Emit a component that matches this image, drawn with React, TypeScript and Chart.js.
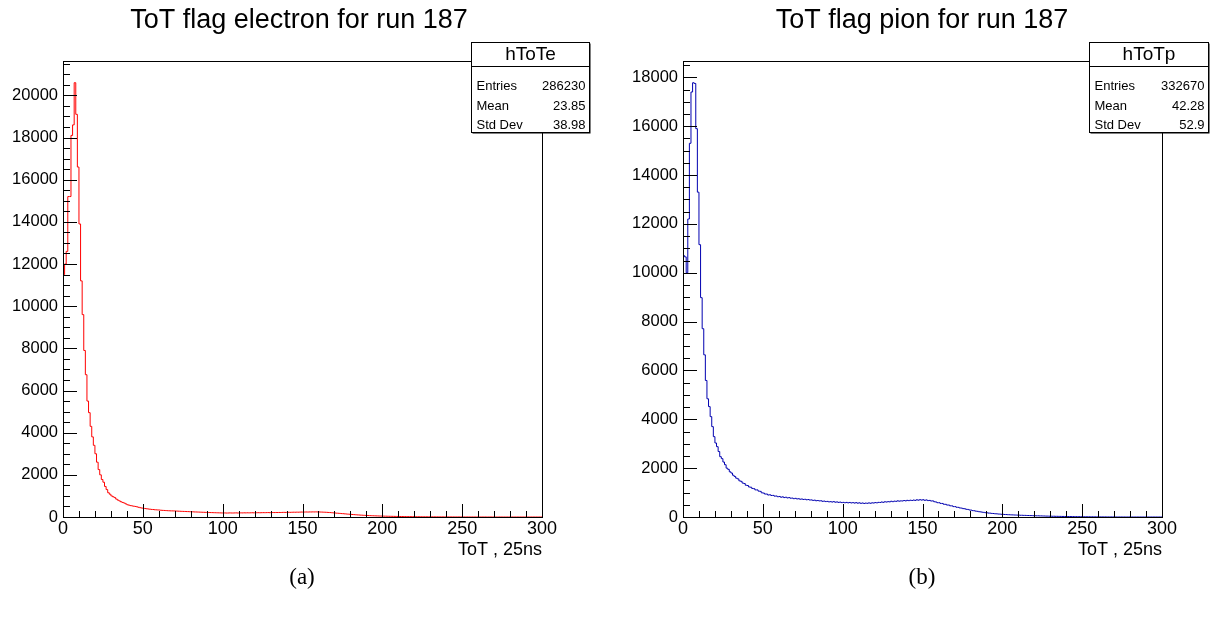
import React, { useEffect, useRef } from "react";
import { Chart, registerables } from "chart.js";

Chart.register(...registerables);

// ---------- data ----------
const X_TICKS = [0, 50, 100, 150, 200, 250, 300];
const Y_TICKS_E = [0, 2000, 4000, 6000, 8000, 10000, 12000, 14000, 16000, 18000, 20000];
const Y_TICKS_P = [0, 2000, 4000, 6000, 8000, 10000, 12000, 14000, 16000, 18000];

// electron ToT histogram, 300 bins of width 1 (0..300)
const electronCounts = [
  11500, 12000, 12600, 15200, 15200, 18100, 18600, 20600, 19100, 16600,
  13900, 11200, 9600, 7900, 6750, 5500, 4950, 4300, 3800, 3400,
  3000, 2600, 2250, 2000, 1780, 1650, 1450, 1300, 1150, 1080,
  1000, 960, 920, 850, 800, 760, 720, 690, 660, 620,
  580, 560, 540, 525, 510, 500, 480, 460, 440, 425,
  410, 400, 390, 380, 370, 360, 355, 345, 340, 335,
  330, 320, 315, 310, 305, 300, 295, 292, 290, 288,
  285, 280, 276, 272, 268, 265, 262, 258, 255, 252,
  250, 245, 240, 238, 235, 232, 228, 225, 222, 218,
  215, 212, 210, 208, 205, 203, 200, 198, 195, 192,
  190, 192, 188, 190, 194, 191, 189, 193, 195, 190,
  192, 196, 194, 198, 195, 200, 197, 199, 202, 198,
  200, 203, 205, 201, 204, 207, 205, 208, 210, 206,
  209, 212, 210, 214, 212, 216, 214, 218, 220, 217,
  220, 223, 221, 225, 228, 226, 230, 228, 232, 235,
  232, 236, 238, 235, 240, 238, 242, 240, 243, 240,
  238, 235, 232, 228, 225, 220, 215, 210, 203, 196,
  190, 183, 176, 170, 163, 157, 150, 143, 137, 130,
  124, 118, 112, 106, 100, 95, 90, 85, 80, 76,
  72, 68, 64, 61, 58, 55, 52, 49, 46, 44,
  42, 40, 38, 36, 34, 32, 31, 29, 28, 26,
  25, 24, 22, 21, 20, 19, 18, 17, 16, 15,
  14, 13, 13, 12, 11, 11, 10, 9, 9, 8,
  8, 7, 7, 6, 6, 6, 5, 5, 5, 4,
  4, 4, 3, 3, 3, 3, 2, 3, 2, 2,
  2, 2, 1, 2, 1, 1, 1, 1, 1, 1,
  1, 0, 1, 0, 1, 0, 0, 1, 0, 0,
  0, 0, 0, 1, 0, 0, 0, 0, 0, 0,
  0, 0, 0, 0, 0, 0, 0, 0, 0, 0,
  0, 0, 0, 0, 0, 0, 0, 0, 0, 0,
];

// pion ToT histogram, 300 bins of width 1 (0..300)
const pionCounts = [
  10700, 10650, 10000, 12200, 15300, 17400, 17780, 17750, 15900, 13300,
  11150, 8980, 7710, 6640, 5590, 4840, 4520, 4110, 3700, 3290,
  3030, 2880, 2680, 2470, 2390, 2250, 2140, 2000, 1950, 1850,
  1800, 1710, 1660, 1590, 1560, 1480, 1460, 1390, 1370, 1300,
  1290, 1230, 1220, 1170, 1160, 1110, 1110, 1060, 1050, 990,
  980, 940, 940, 900, 910, 880, 885, 855, 860, 830,
  840, 810, 825, 795, 810, 780, 795, 770, 775, 750,
  765, 740, 748, 728, 738, 718, 726, 705, 715, 695,
  700, 680, 690, 665, 676, 658, 665, 642, 652, 632,
  640, 620, 628, 612, 630, 605, 618, 598, 610, 590,
  600, 585, 598, 580, 595, 575, 590, 570, 588, 565,
  582, 558, 575, 555, 570, 560, 578, 562, 580, 572,
  590, 580, 600, 595, 615, 600, 625, 612, 628, 620,
  645, 628, 650, 640, 662, 648, 660, 655, 675, 660,
  682, 670, 688, 675, 695, 680, 705, 688, 710, 692,
  708, 682, 700, 672, 680, 655, 660, 625, 615, 585,
  585, 555, 555, 520, 520, 490, 490, 458, 458, 425,
  425, 398, 395, 370, 365, 342, 338, 315, 310, 288,
  282, 262, 256, 238, 232, 215, 210, 196, 190, 176,
  172, 160, 157, 146, 143, 133, 131, 121, 120, 111,
  110, 102, 101, 95, 93, 88, 87, 82, 81, 77,
  76, 71, 71, 66, 66, 62, 61, 57, 57, 53,
  53, 49, 49, 45, 45, 41, 41, 37, 37, 33,
  33, 30, 31, 27, 28, 25, 25, 22, 23, 20,
  21, 18, 19, 16, 17, 14, 15, 12, 13, 11,
  12, 9, 10, 8, 9, 7, 8, 6, 7, 5,
  6, 4, 5, 3, 4, 3, 3, 2, 3, 2,
  2, 1, 1, 1, 1, 0, 1, 0, 0, 1,
  0, 0, 0, 0, 0, 0, 0, 0, 0, 0,
  0, 0, 0, 0, 0, 0, 0, 0, 0, 0,
];

const electronStats = [
  ["Entries", "286230"],
  ["Mean", "23.85"],
  ["Std Dev", "38.98"],
];
const pionStats = [
  ["Entries", "332670"],
  ["Mean", "42.28"],
  ["Std Dev", "52.9"],
];

const SANS = "'Liberation Sans', Arial, Helvetica, sans-serif";
const SERIF = "'Liberation Serif', 'DejaVu Serif', serif";

type HistCfg = {
  counts: number[];
  color: string;
  yMax: number;
  yTicks: number[];
  title: string;
  titleX: number;
  statName: string;
  stats: string[][];
  boxX: number;
  boxW: number;
  caption: string;
  captionX: number;
  areaLeft: number;
  areaRight: number;
};

const W = 608;
const H = 624;
const AREA_TOP = 61;
const AREA_BOTTOM = 517;

const rootPlugin = {
  id: "rootStyle",
  afterDraw(chart: any, _args: any, opts: any) {
    const ctx = chart.ctx as CanvasRenderingContext2D;
    const area = chart.chartArea;
    const xs = chart.scales.x;
    const ys = chart.scales.y;
    ctx.save();
    ctx.strokeStyle = "#000";
    ctx.lineWidth = 1;
    // ticks (inward)
    ctx.beginPath();
    for (let v = 0; v <= 300; v += 10) {
      const px = Math.round(xs.getPixelForValue(v)) + 0.5;
      const len = v % 50 === 0 ? 13 : 6;
      ctx.moveTo(px, area.bottom);
      ctx.lineTo(px, area.bottom - len);
    }
    for (let v = 0; v <= opts.yMax; v += 500) {
      const py = Math.round(ys.getPixelForValue(v)) + 0.5;
      const len = v % 2000 === 0 ? 14 : 7;
      ctx.moveTo(area.left, py);
      ctx.lineTo(area.left + len, py);
    }
    ctx.stroke();
    // frame
    ctx.strokeRect(
      Math.round(area.left) + 0.5,
      Math.round(area.top) + 0.5,
      Math.round(area.right - area.left),
      Math.round(area.bottom - area.top)
    );
    // title
    ctx.fillStyle = "#000";
    ctx.font = `27px ${SANS}`;
    ctx.textAlign = "center";
    ctx.textBaseline = "middle";
    ctx.fillText(opts.title, opts.titleX, 21);
    // x axis label
    ctx.font = `18px ${SANS}`;
    ctx.textAlign = "right";
    ctx.fillText("ToT , 25ns", area.right, 550);
    // caption
    ctx.font = `23px ${SERIF}`;
    ctx.textAlign = "center";
    ctx.fillText(opts.caption, opts.captionX, 578);
    // stats box
    const bx = opts.boxX + 0.5;
    const by = 42.5;
    const bw = opts.boxW;
    const bh = 90;
    ctx.fillStyle = "#000";
    ctx.fillRect(bx + 1, by + 1, bw, bh);
    ctx.fillStyle = "#fff";
    ctx.fillRect(bx, by, bw, bh);
    ctx.strokeRect(bx, by, bw, bh);
    ctx.beginPath();
    ctx.moveTo(bx, by + 24);
    ctx.lineTo(bx + bw, by + 24);
    ctx.stroke();
    ctx.fillStyle = "#000";
    ctx.font = `19px ${SANS}`;
    ctx.textAlign = "center";
    ctx.fillText(opts.statName, bx + bw / 2, by + 12.5);
    ctx.font = `13px ${SANS}`;
    const rows = [86.5, 106, 125];
    opts.stats.forEach((r: string[], i: number) => {
      ctx.textAlign = "left";
      ctx.fillText(r[0], bx + 5, rows[i]);
      ctx.textAlign = "right";
      ctx.fillText(r[1], bx + bw - 4, rows[i]);
    });
    ctx.restore();
  },
};

function Hist({ cfg, left }: { cfg: HistCfg; left: number }) {
  const ref = useRef<HTMLCanvasElement | null>(null);
  useEffect(() => {
    if (!ref.current) return;
    const pts: { x: number; y: number }[] = [{ x: 0, y: 0 }];
    cfg.counts.forEach((c, i) => pts.push({ x: i, y: c }));
    pts.push({ x: cfg.counts.length, y: cfg.counts[cfg.counts.length - 1] });
    pts.push({ x: cfg.counts.length, y: 0 });
    const chart = new Chart(ref.current, {
      type: "line",
      data: {
        datasets: [
          {
            data: pts,
            borderColor: cfg.color,
            borderWidth: 1,
            pointRadius: 0,
            stepped: true,
            fill: false,
            tension: 0,
          } as any,
        ],
      },
      plugins: [rootPlugin],
      options: {
        animation: false,
        responsive: false,
        maintainAspectRatio: false,
        layout: {
          padding: { left: 0, right: W - cfg.areaRight, top: AREA_TOP, bottom: 0 },
        },
        plugins: {
          legend: { display: false },
          tooltip: { enabled: false },
          title: { display: false },
          rootStyle: {
            yMax: cfg.yMax,
            title: cfg.title,
            titleX: cfg.titleX,
            statName: cfg.statName,
            stats: cfg.stats,
            boxX: cfg.boxX,
            boxW: cfg.boxW,
            caption: cfg.caption,
            captionX: cfg.captionX,
          },
        } as any,
        scales: {
          x: {
            type: "linear",
            min: 0,
            max: 300,
            grid: { display: false, drawTicks: false },
            border: { display: false },
            afterBuildTicks: (s: any) => {
              s.ticks = X_TICKS.map((v) => ({ value: v }));
            },
            afterFit: (s: any) => {
              s.height = H - AREA_BOTTOM;
            },
            ticks: {
              padding: 1,
              color: "#000",
              maxRotation: 0,
              autoSkip: false,
              font: { family: SANS, size: 18 },
              callback: (v: any) => String(v),
            },
          },
          y: {
            type: "linear",
            min: 0,
            max: cfg.yMax,
            grid: { display: false, drawTicks: false },
            border: { display: false },
            afterBuildTicks: (s: any) => {
              s.ticks = cfg.yTicks.map((v) => ({ value: v }));
            },
            afterFit: (s: any) => {
              s.width = cfg.areaLeft;
            },
            ticks: {
              padding: 5,
              color: "#000",
              autoSkip: false,
              font: { family: SANS, size: 16.5 },
              callback: (v: any) => String(v),
            },
          },
        },
      },
    });
    return () => chart.destroy();
  }, [cfg]);
  return (
    <canvas
      ref={ref}
      width={W}
      height={H}
      style={{ position: "absolute", left, top: 0, width: W, height: H }}
    />
  );
}

const electronCfg: HistCfg = {
  counts: electronCounts,
  color: "#ff0000",
  yMax: 21630,
  yTicks: Y_TICKS_E,
  title: "ToT flag electron for run 187",
  titleX: 299,
  statName: "hToTe",
  stats: electronStats,
  boxX: 471,
  boxW: 118,
  caption: "(a)",
  captionX: 302,
  areaLeft: 63,
  areaRight: 542,
};

const pionCfg: HistCfg = {
  counts: pionCounts,
  color: "#0000b0",
  yMax: 18670,
  yTicks: Y_TICKS_P,
  title: "ToT flag pion for run 187",
  titleX: 314,
  statName: "hToTp",
  stats: pionStats,
  boxX: 481,
  boxW: 119,
  caption: "(b)",
  captionX: 314,
  areaLeft: 75,
  areaRight: 554,
};

export default function App() {
  return (
    <div
      style={{
        position: "fixed",
        left: 0,
        top: 0,
        width: 1216,
        height: 624,
        background: "#fff",
      }}
    >
      <Hist cfg={electronCfg} left={0} />
      <Hist cfg={pionCfg} left={608} />
    </div>
  );
}
